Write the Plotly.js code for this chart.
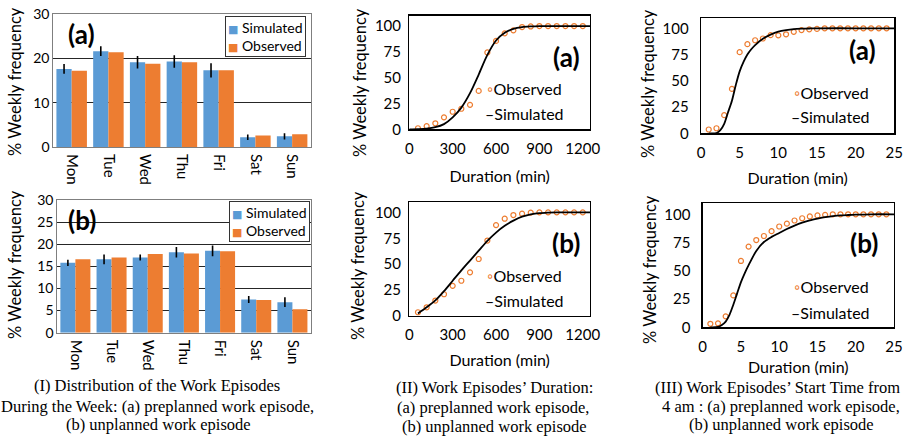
<!DOCTYPE html>
<html>
<head>
<meta charset="utf-8">
<script src="https://cdn.plot.ly/plotly-3.0.1.min.js"></script>
<style>html,body{margin:0;padding:0;background:#fff;}#chart{width:906px;height:438px;}</style>
</head>
<body>
<div id="chart"></div>
<script>
// ---- Panel I: weekly distribution ----
const days = ['Mon', 'Tue', 'Wed', 'Thu', 'Fri', 'Sat', 'Sun'];
const simA = [17.6, 21.6, 19.1, 19.3, 17.3, 2.2, 2.4];
const obsA = [17.2, 21.4, 18.8, 19.1, 17.3, 2.6, 2.9];
const errA = [1.1, 1.1, 1.4, 1.4, 1.6, 0.6, 0.7];
const simB = [15.8, 16.6, 17.0, 18.2, 18.5, 7.5, 6.9];
const obsB = [16.6, 17.0, 17.8, 17.9, 18.4, 7.4, 5.3];
const errB = [0.7, 1.1, 0.7, 1.2, 1.2, 0.8, 1.1];

// ---- Panel II: duration (min) ----
const durX = [60, 120, 180, 240, 300, 360, 420, 480, 540, 600, 660, 720, 780, 840, 900, 960, 1020, 1080, 1140, 1200];
const obsDurA = [1.0, 3.0, 5.8, 11.6, 17.0, 19.9, 23.7, 37.2, 74.4, 85.6, 92.9, 95.8, 99.0, 99.6, 100, 100, 100, 100, 100, 100];
const obsDurB = [3.6, 8.4, 14.9, 21.0, 29.1, 34.0, 42.1, 55.0, 72.8, 87.7, 93.9, 97.4, 98.7, 99.7, 100, 100, 100, 100, 100, 100];
const simDurAX = [0, 60, 120, 180, 240, 300, 360, 420, 480, 540, 600, 660, 720, 780, 840, 900, 960, 1020, 1080, 1140, 1200, 1250];
const simDurA = [0, 0.2, 0.7, 2, 5, 11.5, 21, 35, 53, 72, 86, 93.5, 97.3, 99, 99.6, 99.9, 100, 100, 100, 100, 100, 100];
const simDurBX = [60, 120, 180, 240, 300, 360, 420, 480, 540, 600, 660, 720, 780, 840, 900, 960, 1020, 1080, 1140, 1200, 1250];
const simDurB = [2.5, 8.4, 15, 24, 34, 44, 53.5, 63, 72.5, 80.5, 87, 92, 95.8, 98, 99.3, 99.8, 100, 100, 100, 100, 100];

// ---- Panel III: start time from 4 am ----
const startX = [1, 2, 3, 4, 5, 6, 7, 8, 9, 10, 11, 12, 13, 14, 15, 16, 17, 18, 19, 20, 21, 22, 23, 24];
const obsStartA = [3.6, 4.8, 17.3, 42.3, 77.3, 84.9, 88.6, 90.3, 93.5, 93.3, 94.3, 96.6, 98.3, 99.0, 99.4, 100, 100, 100, 100, 100, 100, 100, 100, 100];
const obsStartB = [3.1, 3.5, 9.7, 28.2, 58.7, 71.4, 77.2, 80.8, 85.1, 89.2, 91.7, 94.5, 96.5, 98.1, 99.0, 99.5, 100, 100, 100, 100, 100, 100, 100, 100];
const simStartAX = [1, 2, 2.5, 3, 3.5, 4, 4.5, 5, 5.5, 6, 6.5, 7, 8, 9, 10, 11, 12, 13, 14, 15, 20, 25];
const simStartA = [0, 0.3, 3, 9, 20, 31, 46, 59, 68, 75, 80, 84, 90, 94, 96.8, 98.3, 99.2, 99.6, 99.8, 100, 100, 100];
const simStartBX = [1, 2, 2.5, 3, 3.5, 4, 4.5, 5, 5.5, 6, 7, 8, 9, 10, 11, 12, 13, 14, 15, 16, 17, 18, 19, 20, 22, 25];
const simStartB = [0, 0.3, 2, 5, 11, 20, 30, 40, 48, 55, 67.5, 75.5, 80, 83.5, 87, 90, 92.6, 94.7, 96.2, 97.5, 98.3, 99, 99.4, 99.7, 100, 100];

const ytitle = '% Weekly frequency';
const xtitle = 'Duration (min)';
const seriesNames = ['Simulated', 'Observed'];

const BLUE = '#5B9BD5', ORANGE = '#ED7D31';
const W = 906, H = 438;
const px = v => v / W, py = v => 1 - v / H;

function bar(x, y, err, color, name, xa, ya) {
  return { type: 'bar', x: x, y: y, name: name, xaxis: xa, yaxis: ya, showlegend: false,
    marker: { color: color },
    error_y: err ? { type: 'data', array: err, visible: true, color: '#000', thickness: 1.6, width: 0 } : { visible: false } };
}
function obs(x, y, xa, ya) {
  return { type: 'scatter', mode: 'markers', x: x, y: y, xaxis: xa, yaxis: ya, name: seriesNames[1], showlegend: false,
    marker: { symbol: 'circle-open', size: 5, color: ORANGE, line: { width: 1.2, color: ORANGE } } };
}
function sim(x, y, xa, ya) {
  return { type: 'scatter', mode: 'lines', x: x, y: y, xaxis: xa, yaxis: ya, name: seriesNames[0], showlegend: false,
    line: { color: '#000', width: 1.8, shape: 'spline', smoothing: 0.8 } };
}

const traces = [
  bar(days, simA, errA, BLUE, seriesNames[0], 'x', 'y'),
  bar(days, obsA, null, ORANGE, seriesNames[1], 'x', 'y'),
  bar(days, simB, errB, BLUE, seriesNames[0], 'x2', 'y2'),
  bar(days, obsB, null, ORANGE, seriesNames[1], 'x2', 'y2'),
  obs(durX, obsDurA, 'x3', 'y3'), sim(simDurAX, simDurA, 'x3', 'y3'),
  obs(durX, obsDurB, 'x4', 'y4'), sim(simDurBX, simDurB, 'x4', 'y4'),
  obs(startX, obsStartA, 'x5', 'y5'), sim(simStartAX, simStartA, 'x5', 'y5'),
  obs(startX, obsStartB, 'x6', 'y6'), sim(simStartBX, simStartB, 'x6', 'y6')
];

const tf = { size: 14, color: '#000' };
const tf2 = { size: 15, color: '#000' };
function barX(dom, anchor) {
  return { domain: dom, anchor: anchor, tickangle: 90, tickfont: { size: 15, color: '#000' }, showline: true, linecolor: '#7f7f7f',
    linewidth: 1, mirror: true, ticks: '', showgrid: false, fixedrange: true, ticklabelstandoff: 3 };
}
function barY(dom, anchor, dtick) {
  return { domain: dom, anchor: anchor, range: [0, 30], dtick: dtick, tickfont: tf, showgrid: true,
    gridcolor: '#262626', gridwidth: 1, zeroline: false, showline: true, linecolor: '#7f7f7f', mirror: true,
    ticks: '' };
}
function lineX(dom, anchor, range, dtick, tstand) {
  return { domain: dom, anchor: anchor, range: range, dtick: dtick, tickfont: tf2, showline: true,
    linecolor: '#000', linewidth: 1.3, mirror: true, showgrid: false, zeroline: false, ticks: '',
    ticklabelstandoff: 5, title: { text: xtitle, font: { size: 16 }, standoff: tstand } };
}
function lineY(dom, anchor, standoffLbl) {
  return { domain: dom, anchor: anchor, range: [0, 110], tickvals: [0, 25, 50, 75, 100], tickfont: tf2,
    showline: true, linecolor: '#000', linewidth: 1.3, mirror: true, showgrid: false, zeroline: false,
    ticks: '', ticklabelstandoff: standoffLbl };
}

const ytl = (x, y) => ({ text: ytitle, xref: 'paper', yref: 'paper', x: px(x), y: py(y), textangle: -90,
  xanchor: 'center', yanchor: 'middle', showarrow: false, font: { size: 16.5, color: '#000' } });
const bold = (t, x, y) => ({ text: '<b>' + t + '</b>', xref: 'paper', yref: 'paper', x: px(x), y: py(y),
  xanchor: 'center', yanchor: 'middle', showarrow: false, font: { size: 26, color: '#000' } });
const legTxt = (t, x, y) => ({ text: t, xref: 'paper', yref: 'paper', x: px(x), y: py(y),
  xanchor: 'left', yanchor: 'middle', showarrow: false, font: { size: 16, color: '#000' } });
const mk = '<span style="color:' + ORANGE + '">\u25E6</span>' + seriesNames[1];
const dash = '\u2013' + seriesNames[0];
const sq = c => '<span style="color:' + c + ';font-size:11px">\u25A0</span> ';
const barLeg = (xr, yt) => ({ text: sq(BLUE) + seriesNames[0] + '<br>' + sq(ORANGE) + seriesNames[1],
  xref: 'paper', yref: 'paper', x: px(xr), y: py(yt), xanchor: 'right', yanchor: 'top', align: 'left',
  showarrow: false, bgcolor: '#fff', bordercolor: '#333', borderwidth: 1, borderpad: 2,
  font: { size: 14, color: '#000' } });
const capF = { family: '"Liberation Serif", "Times New Roman", serif', size: 16.5, color: '#000' };
const cap = (t, x, y) => ({ text: t, xref: 'paper', yref: 'paper', x: px(x), y: py(y), xanchor: 'center',
  yanchor: 'middle', showarrow: false, font: capF });

const layout = {
  width: W, height: H, margin: { l: 0, r: 0, t: 0, b: 0 },
  paper_bgcolor: '#fff', plot_bgcolor: '#fff', showlegend: false,
  font: { family: 'Lato, "DejaVu Sans", sans-serif', color: '#000' },
  barmode: 'group', bargap: 0.17, bargroupgap: 0,
  xaxis: barX([px(53.3), px(310.5)], 'y'),
  yaxis: barY([py(147), py(14)], 'x', 10),
  xaxis2: barX([px(57.3), px(310.5)], 'y2'),
  yaxis2: barY([py(332.7), py(200)], 'x2', 5),
  xaxis3: lineX([px(409.3), px(590)], 'y3', [0, 1250], 300, 15),
  yaxis3: lineY([py(129.3), py(15.7)], 'x3', 4),
  xaxis4: lineX([px(409.3), px(590)], 'y4', [0, 1250], 300, 12),
  yaxis4: lineY([py(316), py(202)], 'x4', 4),
  xaxis5: lineX([px(701), px(894.3)], 'y5', [0, 25], 5, 13),
  yaxis5: lineY([py(133.3), py(17.8)], 'x5', 8),
  xaxis6: lineX([px(702.7), px(894)], 'y6', [0, 25], 5, 8),
  yaxis6: lineY([py(327.3), py(203)], 'x6', 8),
  annotations: [
    ytl(15, 82), ytl(15, 265), ytl(360, 83), ytl(358, 266), ytl(648, 84), ytl(650, 270),
    barLeg(306, 16), barLeg(310, 201),
    bold('(a)', 81, 34), bold('(b)', 82, 220),
    bold('(a)', 566, 57), bold('(b)', 566, 243),
    bold('(a)', 862, 50), bold('(b)', 864, 243),
    legTxt(mk, 485, 89), legTxt(dash, 483, 114),
    legTxt(mk, 485, 275), legTxt(dash, 483, 300),
    legTxt(mk, 792, 92), legTxt(dash, 789, 117),
    legTxt(mk, 792, 286), legTxt(dash, 789, 312),
    cap('(I) Distribution of the Work Episodes', 157, 385),
    cap('During the Week: (a) preplanned work episode,', 157, 406),
    cap('(b) unplanned work episode', 158, 424),
    cap('(II) Work Episodes\u2019 Duration:', 494.5, 387),
    cap('(a) preplanned work episode,', 493, 407),
    cap('(b) unplanned work episode', 494, 426),
    cap('(III) Work Episodes\u2019 Start Time from', 777, 387),
    cap('4 am : (a) preplanned work episode,', 781, 406),
    cap('(b) unplanned work episode', 781, 424)
  ]
};

Plotly.newPlot('chart', traces, layout, { staticPlot: true, displayModeBar: false });
</script>
</body>
</html>
